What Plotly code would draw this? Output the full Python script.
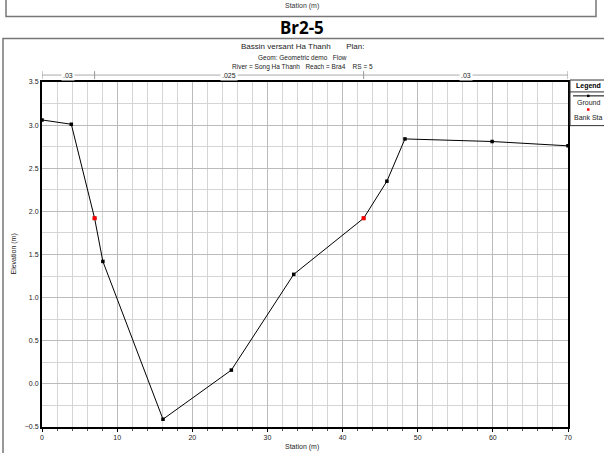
import plotly.graph_objects as go

# ground profile, station (m) / elevation (m)
station = [0.0, 3.9, 7.0, 8.1, 16.1, 25.2, 33.5, 42.8, 45.9, 48.3, 59.9, 70.0]
elevation = [3.06, 3.01, 1.92, 1.42, -0.41, 0.16, 1.27, 1.92, 2.35, 2.84, 2.81, 2.76]

# bank stations
bank_sta = [7.0, 42.8]
bank_elev = [1.92, 1.92]

# manning n values between breaks
n_breaks = [0.0, 7.0, 42.8, 70.0]
n_labels = [".03", ".025", ".03"]

W, H = 604, 453
L, R, T, B = 42, 568, 82, 430


def px(x):
    return (x - L) / (R - L)


def py(y):
    return (B - y) / (B - T)


fig = go.Figure()
fig.add_trace(go.Scatter(
    x=station, y=elevation, mode="lines+markers", name="Ground",
    line=dict(color="black", width=1),
    marker=dict(color="black", size=3.5, symbol="square"),
))
fig.add_trace(go.Scatter(
    x=bank_sta, y=bank_elev, mode="markers", name="Bank Sta",
    marker=dict(color="red", size=4, symbol="square"),
))

font = "Liberation Sans, Arial, sans-serif"
shapes = []
ann = []


def note(text, x, y, size=7, color="#222", xref="paper", **kw):
    ann.append(dict(text=text, xref=xref, yref="paper", x=x, y=y, showarrow=False,
                    xanchor="center", yanchor="middle",
                    font=dict(size=size, family=kw.pop("family", font), color=color), **kw))


# previous chart's box at the top and current frame
shapes.append(dict(type="rect", xref="paper", yref="paper",
                   x0=px(6), x1=px(596), y0=py(16), y1=py(-5),
                   line=dict(color="#777", width=1.5)))
shapes.append(dict(type="rect", xref="paper", yref="paper",
                   x0=px(3), x1=px(610), y0=py(460), y1=py(38),
                   line=dict(color="#777", width=1.5)))
note("Station (m)", px(302), py(5), color="#333")
note("<b>Br2-5</b>", px(302), py(27), size=17, color="black", family="Noto Sans, sans-serif")

# titles
note("Bassin versant Ha Thanh&nbsp;&nbsp;&nbsp;&nbsp;&nbsp;&nbsp;&nbsp;Plan:", px(302), py(46), size=8)
note("Geom: Geometric demo&nbsp;&nbsp;&nbsp;Flow", px(302), py(57), size=6.5)
note("River = Song Ha Thanh&nbsp;&nbsp;&nbsp;Reach = Bra4&nbsp;&nbsp;&nbsp;&nbsp;RS = 5",
     px(302), py(66.5), size=6.5)

# manning n bar
ny = py(75)
shapes.append(dict(type="line", xref="x", yref="paper", x0=n_breaks[0], x1=n_breaks[-1],
                   y0=ny, y1=ny, line=dict(color="#aaa", width=1)))
for b in n_breaks:
    shapes.append(dict(type="line", xref="x", yref="paper", x0=b, x1=b,
                       y0=py(71), y1=py(79), line=dict(color="#999", width=1)))
for i, lab in enumerate(n_labels):
    note(lab, (n_breaks[i] + n_breaks[i + 1]) / 2, ny, xref="x", bgcolor="white")

# legend box
shapes.append(dict(type="rect", xref="paper", yref="paper",
                   x0=px(570), x1=px(606), y0=py(126), y1=py(80),
                   line=dict(color="#333", width=1), fillcolor="white"))
shapes.append(dict(type="line", xref="paper", yref="paper", x0=px(570), x1=px(606),
                   y0=py(92), y1=py(92), line=dict(color="#333", width=1)))
note("<b>Legend</b>", px(588), py(86), color="black")
shapes.append(dict(type="line", xref="paper", yref="paper", x0=px(573), x1=px(604),
                   y0=py(96), y1=py(96), line=dict(color="black", width=1)))
shapes.append(dict(type="rect", xref="paper", yref="paper", x0=px(587), x1=px(589.5),
                   y0=py(97.2), y1=py(94.8), line=dict(color="black", width=0), fillcolor="black"))
note("Ground", px(588), py(103))
shapes.append(dict(type="rect", xref="paper", yref="paper", x0=px(587), x1=px(589.5),
                   y0=py(111), y1=py(108.5), line=dict(color="red", width=0), fillcolor="red"))
note("Bank Sta", px(588), py(117.5))

# axis titles
note("Elevation (m)", px(13), py(256), textangle=-90)
note("Station (m)", px(302), py(450))

fig.update_layout(
    width=W, height=H,
    margin=dict(l=L, r=W - R, t=T, b=H - B),
    paper_bgcolor="white", plot_bgcolor="white",
    showlegend=False,
    shapes=shapes, annotations=ann,
    font=dict(family=font, size=7, color="#222"),
)
fig.update_xaxes(
    range=[0, 70], dtick=10, tickformat="d",
    showline=True, linecolor="black", linewidth=2, mirror=True,
    showgrid=True, gridcolor="#bbb", gridwidth=1,
    minor=dict(dtick=2, showgrid=True, gridcolor="#d5d5d5", gridwidth=1,
               ticks="outside", ticklen=2, tickcolor="#555"),
    ticks="outside", ticklen=3, tickcolor="black", zeroline=False,
    tickfont=dict(size=7, family=font),
)
fig.update_yaxes(
    range=[-0.5, 3.5], dtick=0.5, tickformat=".1f",
    showline=True, linecolor="black", linewidth=2, mirror=True,
    showgrid=True, gridcolor="#bbb", gridwidth=1,
    minor=dict(dtick=0.25, showgrid=True, gridcolor="#d5d5d5", gridwidth=1),
    ticks="", zeroline=False,
    tickfont=dict(size=7, family=font),
)

fig.write_html("out.html", config={"displayModeBar": False},
               post_script="document.body.style.margin='0';")
